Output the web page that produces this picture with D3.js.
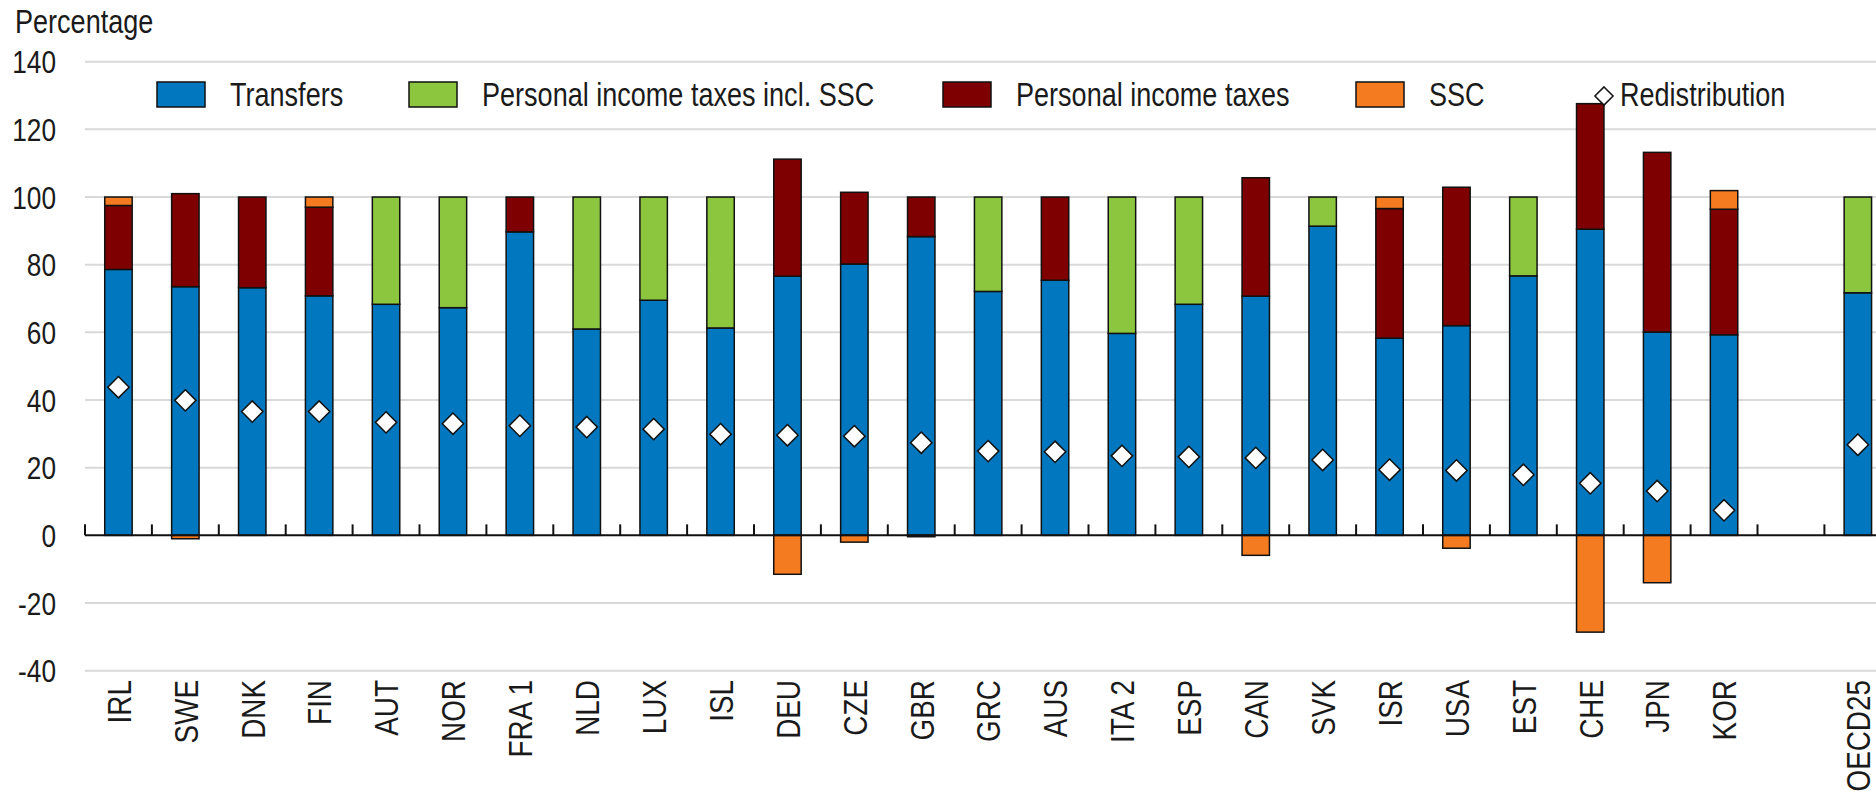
<!DOCTYPE html>
<html>
<head>
<meta charset="utf-8">
<script src="https://cdn.jsdelivr.net/npm/d3@7"></script>
<style>
  html, body { margin: 0; padding: 0; background: #fff; overflow: hidden; }
  svg { display: block; }
  text { font-family: "Liberation Sans", Arial, sans-serif; fill: #1a1a1a; }
</style>
</head>
<body>
<svg id="chart"></svg>
<script>
// ---- data ----
const countries = ["IRL", "SWE", "DNK", "FIN", "AUT", "NOR", "FRA 1", "NLD", "LUX", "ISL",
  "DEU", "CZE", "GBR", "GRC", "AUS", "ITA 2", "ESP", "CAN", "SVK", "ISR",
  "USA", "EST", "CHE", "JPN", "KOR", "", "OECD25"];

const transfers = [78.6, 73.5, 73.2, 70.8, 68.3, 67.3, 89.7, 61.0, 69.5, 61.3,
  76.6, 80.2, 88.3, 72.1, 75.4, 59.7, 68.3, 70.7, 91.4, 58.3,
  62.0, 76.7, 90.5, 60.1, 59.3, null, 71.7];

const pitInclSsc = [0, 0, 0, 0, 31.7, 32.7, 0, 39.0, 30.5, 38.7,
  0, 0, 0, 27.9, 0, 40.3, 31.7, 0, 8.6, 0,
  0, 23.3, 0, 0, 0, null, 28.3];

const pit = [18.9, 27.5, 26.8, 26.2, 0, 0, 10.3, 0, 0, 0,
  34.6, 21.2, 11.7, 0, 24.6, 0, 0, 35.0, 0, 38.3,
  40.9, 0, 37.1, 53.1, 37.1, null, 0];

const ssc = [2.5, -1.0, 0, 3.0, 0, 0, 0, 0, 0, 0,
  -11.5, -2.0, -0.4, 0, 0, 0, 0, -5.9, 0, 3.4,
  -3.8, 0, -28.6, -14.0, 5.5, null, 0];

const redistribution = [43.8, 39.9, 36.6, 36.6, 33.4, 33.0, 32.4, 32.0, 31.4, 29.9,
  29.6, 29.3, 27.4, 24.9, 24.7, 23.5, 23.2, 22.9, 22.3, 19.4,
  19.2, 17.9, 15.4, 13.1, 7.4, null, 26.8];

const seriesNames = ["Transfers", "Personal income taxes incl. SSC", "Personal income taxes", "SSC"];
const seriesColors = ["#0077be", "#8cc63f", "#7f0000", "#f47b20"];
const pointName = "Redistribution";
const yTicks = [140, 120, 100, 80, 60, 40, 20, 0, -20, -40];

// ---- layout ----
const W = 1876, H = 796;
const NARROW = 0.82; // no condensed font installed, squeeze text instead
const svg = d3.select("#chart").attr("width", W).attr("height", H);

const step = 66.9;
const x = d3.scaleBand()
  .domain(countries.map((c, i) => i))
  .range([85, 85 + step * countries.length])
  .paddingInner(0.59)
  .paddingOuter(0.295);

const y = d3.scaleLinear().domain([-40, 140]).range([670.7, 61.7]);

// grid
svg.append("g").selectAll("line")
  .data(yTicks.filter(d => d !== 0))
  .join("line")
  .attr("x1", 85).attr("x2", W)
  .attr("y1", d => y(d)).attr("y2", d => y(d))
  .attr("stroke", "#d9d9d9").attr("stroke-width", 2);

// y tick labels
svg.append("g").selectAll("text")
  .data(yTicks)
  .join("text")
  .attr("transform", d => `translate(56,${y(d)}) scale(${NARROW},1)`)
  .attr("dy", "0.36em")
  .attr("text-anchor", "end")
  .style("font-size", "32px")
  .text(d => d);

svg.append("text")
  .attr("transform", `translate(15,33) scale(${NARROW},1)`)
  .style("font-size", "33px")
  .text("Percentage");

// stacked segments
const rows = countries.map((c, i) => ({
  i, c,
  vals: [transfers[i], pitInclSsc[i], pit[i], ssc[i]]
}));

const segs = [];
rows.forEach(r => {
  if (r.vals[0] == null) return;
  let pos = 0, neg = 0;
  r.vals.forEach((v, k) => {
    if (!v) return;
    if (v > 0) { segs.push({ i: r.i, k, y0: pos, y1: pos + v }); pos += v; }
    else { segs.push({ i: r.i, k, y0: neg + v, y1: neg }); neg += v; }
  });
});

svg.append("g").selectAll("rect")
  .data(segs)
  .join("rect")
  .attr("x", d => x(d.i))
  .attr("width", x.bandwidth())
  .attr("y", d => y(d.y1))
  .attr("height", d => y(d.y0) - y(d.y1))
  .attr("fill", d => seriesColors[d.k])
  .attr("stroke", "#111")
  .attr("stroke-width", 1.5);

// zero axis with upward ticks at slot boundaries
const axisG = svg.append("g");
axisG.append("line")
  .attr("x1", 85).attr("x2", W)
  .attr("y1", y(0)).attr("y2", y(0))
  .attr("stroke", "#111").attr("stroke-width", 2);
axisG.selectAll("line.tick")
  .data(d3.range(countries.length + 1))
  .join("line")
  .attr("class", "tick")
  .attr("x1", i => x.range()[0] + i * x.step())
  .attr("x2", i => x.range()[0] + i * x.step())
  .attr("y1", y(0)).attr("y2", y(0) - 11)
  .attr("stroke", "#111").attr("stroke-width", 2);

// redistribution diamonds
const diamond = d3.symbol().type(d3.symbolDiamond2).size(290);
svg.append("g").selectAll("path")
  .data(redistribution.map((v, i) => ({ v, i })).filter(d => d.v != null))
  .join("path")
  .attr("d", diamond)
  .attr("transform", d => `translate(${x(d.i) + x.bandwidth() / 2},${y(d.v)})`)
  .attr("fill", "#fff").attr("stroke", "#111").attr("stroke-width", 1.5);

// x labels
svg.append("g").selectAll("text")
  .data(countries.map((c, i) => ({ c, i })).filter(d => d.c))
  .join("text")
  .attr("transform", d => `translate(${x(d.i) + x.bandwidth() / 2},680) rotate(-90) scale(${NARROW},1)`)
  .attr("text-anchor", "end")
  .attr("dy", "0.36em")
  .style("font-size", "34px")
  .text(d => d.c);

// legend
const legX = [157, 409, 943, 1356];
const leg = svg.append("g");
seriesNames.forEach((name, k) => {
  leg.append("rect")
    .attr("x", legX[k]).attr("y", 82)
    .attr("width", 48).attr("height", 25)
    .attr("fill", seriesColors[k])
    .attr("stroke", "#111").attr("stroke-width", 1.5);
  leg.append("text")
    .attr("transform", `translate(${legX[k] + 73},94) scale(${NARROW},1)`)
    .attr("dy", "0.36em")
    .style("font-size", "33px")
    .text(name);
});
leg.append("path")
  .attr("d", d3.symbol().type(d3.symbolDiamond2).size(210))
  .attr("transform", "translate(1604,96)")
  .attr("fill", "#fff").attr("stroke", "#111").attr("stroke-width", 1.5);
leg.append("text")
  .attr("transform", `translate(1620,94) scale(${NARROW},1)`)
  .attr("dy", "0.36em")
  .style("font-size", "33px")
  .text(pointName);
</script>
</body>
</html>
